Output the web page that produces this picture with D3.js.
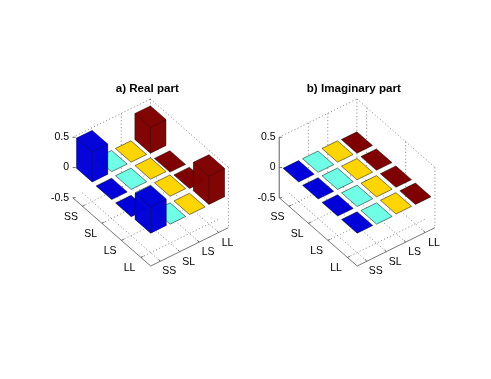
<!DOCTYPE html>
<html>
<head>
<meta charset="utf-8">
<script src="https://cdn.jsdelivr.net/npm/d3@7/dist/d3.min.js"></script>
<style>
  html, body { margin: 0; background: #fff; }
  svg { display: block; filter: blur(0.35px); }
  text { font-family: "Liberation Sans", Arial, sans-serif; fill: #000; }
</style>
</head>
<body>
<div id="chart"></div>
<script>
// Data
const basis = ['SS', 'SL', 'LS', 'LL'];
const zTicks = [-0.5, 0, 0.5];
const columnColors = ['#0000d8', '#70ffe6', '#ffd500', '#7f0000'];

// rows run along the left floor edge, columns along the right one
const realPart = [
  [0.50, 0.01, 0.01, 0.43],
  [-0.01, 0.00, 0.01, -0.03],
  [-0.01, 0.00, 0.01, -0.02],
  [0.43, -0.01, -0.01, 0.47],
];
const imagPart = [
  [0.00, 0.00, 0.01, 0.00],
  [0.00, 0.00, 0.00, 0.00],
  [0.00, 0.00, 0.00, 0.00],
  [0.00, -0.01, 0.00, 0.00],
];

const panels = [
  { title: 'a) Real part', values: realPart, x0: 72.7, zAxis: false, wallRows: [], wallCols: [2] },
  { title: 'b) Imaginary part', values: imagPart, x0: 279.2, zAxis: true, wallRows: [0, 2], wallCols: [1, 2] },
];

const width = 491;
const height = 379;
const svg = d3.select('#chart').append('svg').attr('width', width).attr('height', height);

// Oblique projection: each data axis adds its own screen offset
const rowX = d3.scaleLinear().domain([0.5, 4.5]).range([0, 78]);
const rowY = d3.scaleLinear().domain([0.5, 4.5]).range([0, 68.3]);
const colX = d3.scaleLinear().domain([0.5, 4.5]).range([0, 77.7]);
const colY = d3.scaleLinear().domain([0.5, 4.5]).range([0, -38.3]);
const zY = d3.scaleLinear().domain([-0.5, 0.5]).range([197.7, 137.3]);

const barHalf = 0.4;
const line = d3.line().curve(d3.curveLinearClosed);

function drawPanel(panel) {
  const g = svg.append('g');
  const project = (r, c, z) => [panel.x0 + rowX(r) + colX(c), zY(z) + rowY(r) + colY(c)];
  const seg = (a, b, cls) => {
    const el = g.append('line')
      .attr('x1', a[0]).attr('y1', a[1]).attr('x2', b[0]).attr('y2', b[1]);
    if (cls === 'dot') {
      el.attr('stroke', '#666').attr('stroke-width', 0.8).attr('stroke-dasharray', '1 2.4');
    } else {
      el.attr('stroke', '#555').attr('stroke-width', 0.8);
    }
    return el;
  };

  const lo = 0.5, hi = 4.5, zLo = -0.5, zHi = 0.5;

  // Box: top edges of the two back walls
  seg(project(lo, lo, zHi), project(lo, hi, zHi), 'dot');
  seg(project(lo, hi, zHi), project(hi, hi, zHi), 'dot');
  seg(project(hi, hi, zHi), project(hi, hi, zLo), 'dot');
  seg(project(lo, hi, zHi), project(lo, hi, zLo), 'dot');

  // Wall grid
  panel.wallCols.forEach(i => seg(project(lo, i + 1, zHi), project(lo, i + 1, zLo), 'dot'));
  panel.wallRows.forEach(i => seg(project(i + 1, hi, zHi), project(i + 1, hi, zLo), 'dot'));

  // Floor grid
  basis.forEach((_, i) => {
    seg(project(i + 1, lo, zLo), project(i + 1, hi, zLo), 'dot');
    seg(project(lo, i + 1, zLo), project(hi, i + 1, zLo), 'dot');
  });

  // Solid axes
  seg(project(lo, lo, zLo), project(hi, lo, zLo));
  seg(project(hi, lo, zLo), project(hi, hi, zLo));
  if (panel.zAxis) seg(project(lo, lo, zLo), project(lo, lo, zHi)).attr('stroke', '#333');

  // Tick marks and labels
  basis.forEach((name, i) => {
    const a = project(i + 1, lo, zLo);
    seg(a, [a[0] + 2.5, a[1] - 1.2]);
    g.append('text').attr('x', a[0] - 11.4).attr('y', a[1] + 9.75)
      .attr('text-anchor', 'middle').attr('dy', '0.35em').attr('font-size', 10.5).text(name);
    const b = project(hi, i + 1, zLo);
    seg(b, [b[0] - 2, b[1] - 1.8]);
    g.append('text').attr('x', b[0] + 8.9).attr('y', b[1] + 9.5)
      .attr('text-anchor', 'middle').attr('dy', '0.35em').attr('font-size', 10.5).text(name);
  });
  zTicks.forEach(t => {
    const p = project(lo, lo, t);
    seg(p, [p[0] + 3, p[1]]);
    g.append('text').attr('x', p[0] - 3.7).attr('y', p[1] - 0.8)
      .attr('text-anchor', 'end').attr('dy', '0.35em').attr('font-size', 10.5)
      .text(String(t));
  });

  // Bars, painted from the back of the floor to the front
  const cells = panel.values.flatMap((row, r) => row.map((value, c) => ({ r: r + 1, c: c + 1, value })));
  d3.sort(cells, d => d.r - d.c).forEach(d => {
    const r0 = d.r - barHalf, r1 = d.r + barHalf, c0 = d.c - barHalf, c1 = d.c + barHalf;
    const z = d.value;
    const tall = Math.abs(z) > 0.1;
    const ring = (pts) => line(pts.map(p => project(p[0], p[1], p[2])));
    const top = [[r0, c0, z], [r0, c1, z], [r1, c1, z], [r1, c0, z]];
    const faces = tall
      ? [
          [[r0, c0, 0], [r0, c1, 0], [r1, c1, 0], [r1, c0, 0]],
          [[r0, c0, 0], [r0, c1, 0], [r0, c1, z], [r0, c0, z]],
          [[r0, c1, 0], [r1, c1, 0], [r1, c1, z], [r0, c1, z]],
          [[r1, c0, 0], [r0, c0, 0], [r0, c0, z], [r1, c0, z]],
          [[r1, c1, 0], [r1, c0, 0], [r1, c0, z], [r1, c1, z]],
          top,
        ]
      : [top];
    g.append('g').selectAll('path').data(faces).join('path')
      .attr('d', ring)
      .attr('fill', columnColors[d.c - 1])
      .attr('fill-opacity', tall ? 0.86 : 1)
      .attr('stroke', '#000')
      .attr('stroke-opacity', tall ? 0.3 : 0.7)
      .attr('stroke-width', 0.7)
      .attr('stroke-linejoin', 'round');
  });

  // Title
  g.append('text')
    .attr('x', panel.x0 + 74.6).attr('y', 87.7).attr('dy', '0.35em')
    .attr('text-anchor', 'middle').attr('font-size', 11.6).attr('font-weight', 'bold')
    .text(panel.title);
}

panels.forEach(drawPanel);
</script>
</body>
</html>
